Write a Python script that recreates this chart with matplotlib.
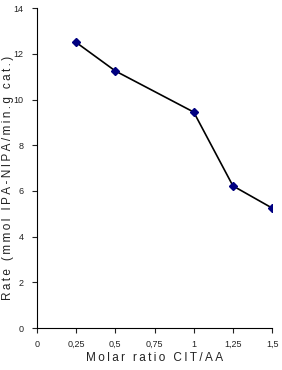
import matplotlib.pyplot as plt

ratio = [0.25, 0.5, 1.0, 1.25, 1.5]
rate = [12.5, 11.25, 9.45, 6.22, 5.25]
xticks = [0, 0.25, 0.5, 0.75, 1, 1.25, 1.5]
xtick_labels = ["0", "0,25", "0,5", "0,75", "1", "1,25", "1,5"]
yticks = [0, 2, 4, 6, 8, 10, 12, 14]

plt.rcParams['font.family'] = ['Liberation Sans', 'DejaVu Sans']

def spaced(s):
    # thin space between letters, like the wide tracking of the original
    return '\u2009'.join(s)

fig = plt.figure(figsize=(2.82, 3.7), dpi=100)
ax = fig.add_axes([0.131, 0.1135, 0.834, 0.8645])

ax.plot(ratio, rate, '-', c='black', lw=1.2, zorder=2)
ax.plot(ratio, rate, 'D', c='#000080', ms=4, zorder=3)

ax.set_xlim(0, 1.5)
ax.set_ylim(0, 14)
ax.set_xticks(xticks)
ax.set_xticklabels(xtick_labels)
ax.set_yticks(yticks)
ax.tick_params(labelsize=6.5, length=3.5, width=0.8, pad=5, colors='#222222')
ax.tick_params(axis='y', pad=6)

for s in ['top', 'right']:
    ax.spines[s].set_visible(False)
for s in ['left', 'bottom']:
    ax.spines[s].set_linewidth(0.8)

ax.set_xlabel(spaced('Molar ratio CIT/AA'), fontsize=8.5, color='#222222')
ax.xaxis.set_label_coords(0.5, -0.075)
ax.set_ylabel(spaced('Rate (mmol IPA-NIPA/min.g cat.)'), fontsize=8.5, color='#222222')
ax.yaxis.set_label_coords(-0.097, 0.47)

fig.savefig('out.png', dpi=100)
